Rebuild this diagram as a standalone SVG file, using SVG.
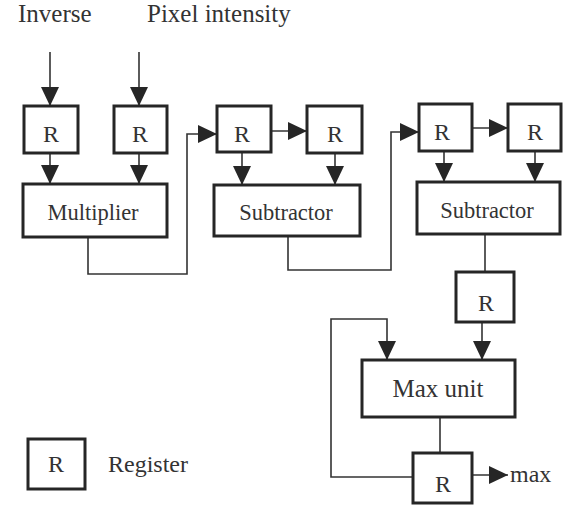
<svg xmlns="http://www.w3.org/2000/svg" width="564" height="507" viewBox="0 0 564 507">
<style>
.box{fill:#fff;stroke:#262626;stroke-width:3}
.con{fill:none;stroke:#333;stroke-width:1.6}
.arr{marker-end:url(#ah)}
text{font-family:"Liberation Serif","Times New Roman",serif;fill:#333;text-anchor:middle}
.lbl{font-size:24px}
.unit{font-size:22.5px}
.top{font-size:25px;text-anchor:start}
</style>
<defs>
<marker id="ah" markerUnits="userSpaceOnUse" markerWidth="19" markerHeight="18" refX="19" refY="9" orient="auto">
<path d="M0,0 L19,9 L0,18 Z" fill="#262626"/>
</marker>
</defs>
<rect width="564" height="507" fill="#fff"/>
<g id="connectors">
<path class="con arr" d="M50,52 V106"/>
<path class="con arr" d="M139,52 V106"/>
<path class="con arr" d="M50,153 V184"/>
<path class="con arr" d="M139,153 V184"/>
<path class="con arr" d="M88,237 V274 H187 V134 H217"/>
<path class="con arr" d="M272,131 H307"/>
<path class="con arr" d="M242,152 V185"/>
<path class="con arr" d="M335,153 V185"/>
<path class="con arr" d="M288,236 V270 H391 V132 H419"/>
<path class="con arr" d="M472,128 H508"/>
<path class="con arr" d="M444,151 V182"/>
<path class="con arr" d="M535,151 V182"/>
<path class="con" d="M485,234 V272"/>
<path class="con arr" d="M482,322 V360"/>
<path class="con arr" d="M413,477 H331 V319 H387 V360"/>
<path class="con" d="M440,417 V453"/>
<path class="con arr" d="M472,475 H508"/>
</g>
<g id="label_inverse"><text class="top" x="18" y="22">Inverse</text></g>
<g id="label_pixel"><text class="top" x="147" y="22">Pixel intensity</text></g>
<g id="reg_inverse"><rect class="box" x="24" y="106" width="54" height="47"/><text class="lbl" x="51" y="142">R</text></g>
<g id="reg_pixel"><rect class="box" x="114" y="106" width="53" height="47"/><text class="lbl" x="140" y="142">R</text></g>
<g id="multiplier"><rect class="box" x="23" y="184" width="144" height="53"/><text class="unit" x="93" y="220">Multiplier</text></g>
<g id="reg_s1a"><rect class="box" x="217" y="106" width="54" height="46"/><text class="lbl" x="242" y="142">R</text></g>
<g id="reg_s1b"><rect class="box" x="307" y="106" width="55" height="47"/><text class="lbl" x="335" y="142">R</text></g>
<g id="subtractor1"><rect class="box" x="214" y="185" width="146" height="51"/><text class="unit" x="286" y="220">Subtractor</text></g>
<g id="reg_s2a"><rect class="box" x="419" y="104" width="53" height="47"/><text class="lbl" x="442" y="140">R</text></g>
<g id="reg_s2b"><rect class="box" x="508" y="104" width="53" height="47"/><text class="lbl" x="535" y="140">R</text></g>
<g id="subtractor2"><rect class="box" x="417" y="182" width="143" height="52"/><text class="unit" x="487" y="218">Subtractor</text></g>
<g id="reg_diff"><rect class="box" x="456" y="272" width="58" height="50"/><text class="lbl" x="486" y="311">R</text></g>
<g id="max_unit"><rect class="box" x="362" y="360" width="153" height="57"/><text class="lbl" x="438" y="397" style="font-size:25px">Max unit</text></g>
<g id="reg_max"><rect class="box" x="413" y="453" width="59" height="50"/><text class="lbl" x="443" y="492">R</text></g>
<g id="label_max"><text class="lbl" x="510" y="482" style="text-anchor:start">max</text></g>
<g id="legend"><rect class="box" x="28" y="439" width="57" height="50"/><text class="lbl" x="56" y="472">R</text><text class="lbl" x="108" y="472" style="text-anchor:start">Register</text></g>
</svg>
